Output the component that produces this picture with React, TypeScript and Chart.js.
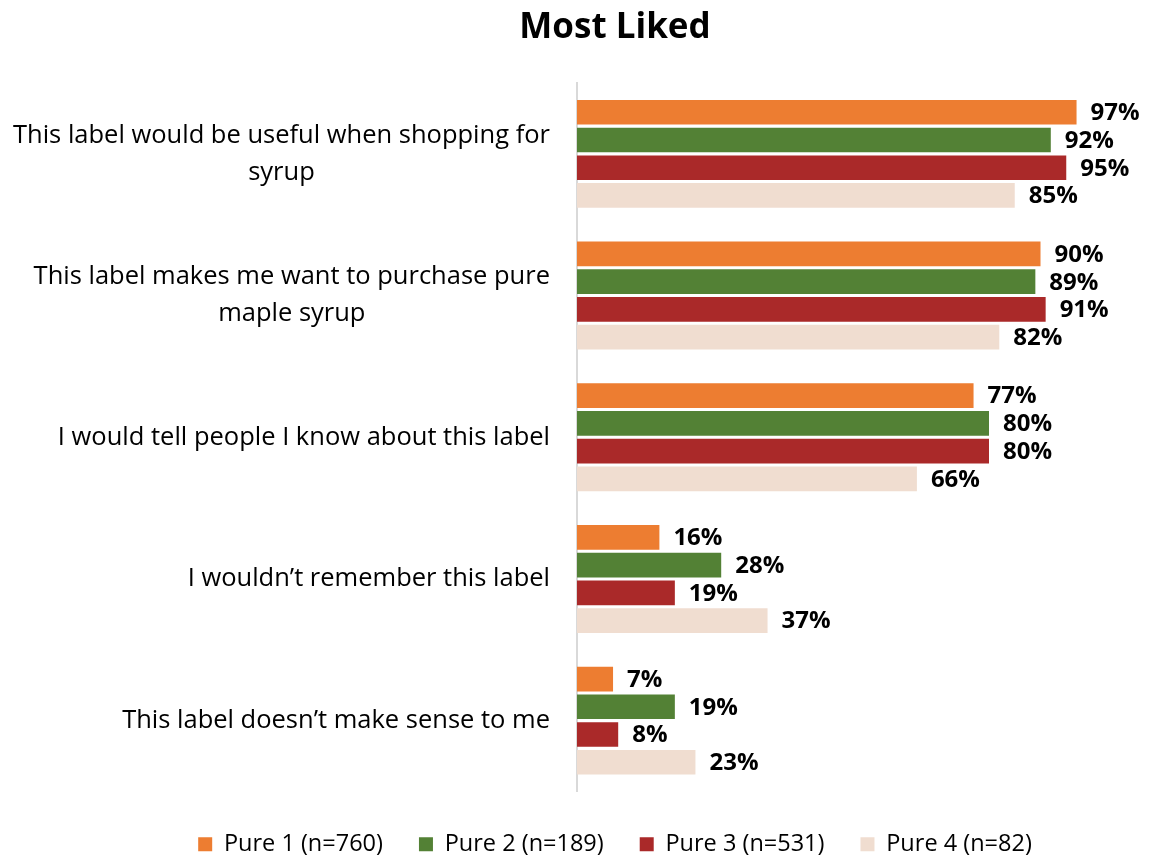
import React, { useEffect, useRef } from "react";
import { Chart, registerables } from "chart.js";

Chart.register(...registerables);

const chartTitle = "Most Liked";
const categories: string[][] = [
  ["This label would be useful when shopping for", "syrup"],
  ["This label makes me want to purchase pure", "maple syrup"],
  ["I would tell people I know about this label"],
  ["I wouldn\u2019t remember this label"],
  ["This label doesn\u2019t make sense to me"],
];
const seriesNames = ["Pure 1 (n=760)", "Pure 2 (n=189)", "Pure 3 (n=531)", "Pure 4 (n=82)"];
const pure1 = [97, 90, 77, 16, 7];
const pure2 = [92, 89, 80, 28, 19];
const pure3 = [95, 91, 80, 19, 8];
const pure4 = [85, 82, 66, 37, 23];
const seriesColors = ["#ED7D31", "#538135", "#AA2929", "#F0DDD0"];

const FONT = "'Open Sans', 'Liberation Sans', sans-serif";

const valueLabelPlugin = {
  id: "valueLabels",
  afterDatasetsDraw(chart: any) {
    const ctx = chart.ctx;
    ctx.save();
    ctx.font = `bold 24px ${FONT}`;
    ctx.fillStyle = "#000";
    ctx.textAlign = "left";
    ctx.textBaseline = "middle";
    chart.data.datasets.forEach((ds: any, di: number) => {
      const meta = chart.getDatasetMeta(di);
      meta.data.forEach((bar: any, i: number) => {
        ctx.fillText(`${ds.data[i]}%`, bar.x + 14, bar.y + 1);
      });
    });
    ctx.restore();
  },
};

const categoryLabelPlugin = {
  id: "categoryLabels",
  afterDraw(chart: any) {
    const ctx = chart.ctx;
    const yScale = chart.scales.y;
    const xRight = chart.chartArea.left - 27;
    const lineGap = 37;
    ctx.save();
    ctx.font = `25.5px ${FONT}`;
    ctx.fillStyle = "#000";
    ctx.textBaseline = "middle";
    categories.forEach((lines, i) => {
      const yc = yScale.getPixelForTick(i);
      const n = lines.length;
      const w0 = ctx.measureText(lines[0]).width;
      const center = xRight - w0 / 2;
      lines.forEach((line, j) => {
        const y = yc + (j - (n - 1) / 2) * lineGap;
        if (j === 0) {
          ctx.textAlign = "right";
          ctx.fillText(line, xRight, y);
        } else {
          ctx.textAlign = "center";
          ctx.fillText(line, center, y);
        }
      });
    });
    ctx.restore();
  },
};

export default function App() {
  const ref = useRef<HTMLCanvasElement | null>(null);
  useEffect(() => {
    if (!ref.current) return;
    const seriesData = [pure1, pure2, pure3, pure4];
    const chart = new Chart(ref.current, {
      type: "bar",
      data: {
        labels: categories.map((c) => c.join(" ")),
        datasets: seriesData.map((d, i) => ({
          label: seriesNames[i],
          data: d,
          backgroundColor: seriesColors[i],
          borderColor: seriesColors[i],
          borderWidth: 0,
          categoryPercentage: 0.783,
          barPercentage: 0.89,
        })),
      },
      options: {
        indexAxis: "y",
        responsive: false,
        animation: false,
        layout: { padding: { left: 138, right: 58, top: 0, bottom: -6 } },
        scales: {
          x: {
            min: 0,
            max: 100,
            display: true,
            grid: { display: false, drawTicks: false },
            border: { display: false },
            ticks: { display: false },
            afterFit: (s: any) => {
              s.height = 5;
            },
          },
          y: {
            grid: { display: false, drawTicks: false },
            border: { display: true, color: "#D9D9D9", width: 2 },
            ticks: { display: false },
            afterFit: (s: any) => {
              s.width = 577 - 138;
            },
          },
        },
        plugins: {
          title: {
            display: true,
            text: chartTitle,
            color: "#000",
            font: { family: FONT, size: 35, weight: "bold", lineHeight: 1.2 },
            padding: { top: 7, bottom: 34 },
          },
          legend: {
            display: true,
            position: "bottom",
            labels: {
              color: "#000",
              font: { family: FONT, size: 23.5 },
              boxWidth: 14,
              boxHeight: 14,
              padding: 36,
            },
          },
          tooltip: { enabled: false },
        },
      },
      plugins: [valueLabelPlugin, categoryLabelPlugin],
    } as any);
    return () => chart.destroy();
  }, []);
  return (
    <div style={{ position: "fixed", left: 0, top: 0, width: 1150, height: 860, background: "#fff" }}>
      <canvas ref={ref} width={1150} height={860} style={{ width: 1150, height: 860, display: "block" }} />
    </div>
  );
}
